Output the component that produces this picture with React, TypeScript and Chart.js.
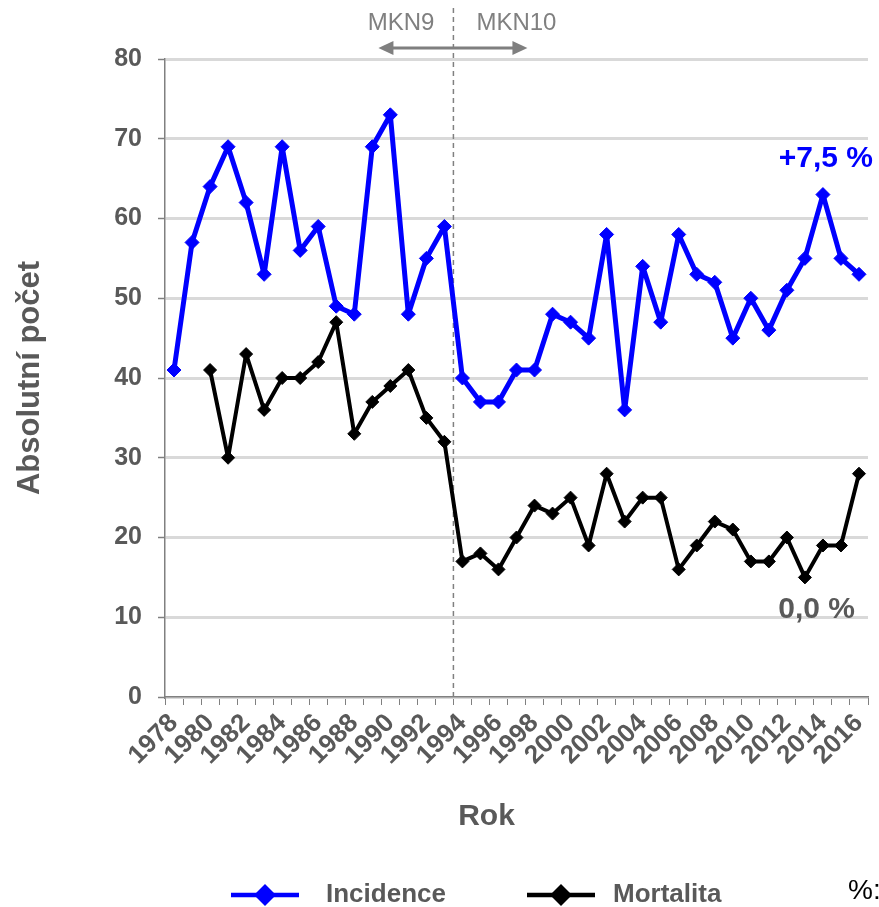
import React, { useEffect, useRef } from "react";
import { Chart, registerables } from "chart.js";

Chart.register(...registerables);

const years = [
  "1978", "1979", "1980", "1981", "1982", "1983", "1984", "1985", "1986", "1987",
  "1988", "1989", "1990", "1991", "1992", "1993", "1994", "1995", "1996", "1997",
  "1998", "1999", "2000", "2001", "2002", "2003", "2004", "2005", "2006", "2007",
  "2008", "2009", "2010", "2011", "2012", "2013", "2014", "2015", "2016",
];

const incidence = [
  41, 57, 64, 69, 62, 53, 69, 56, 59, 49,
  48, 69, 73, 48, 55, 59, 40, 37, 37, 41,
  41, 48, 47, 45, 58, 36, 54, 47, 58, 53,
  52, 45, 50, 46, 51, 55, 63, 55, 53,
];

const mortality: (number | null)[] = [
  null, null, 41, 30, 43, 36, 40, 40, 42, 47,
  33, 37, 39, 41, 35, 32, 17, 18, 16, 20,
  24, 23, 25, 19, 28, 22, 25, 25, 16, 19,
  22, 21, 17, 17, 20, 15, 19, 19, 28,
];

const seriesNames = ["Incidence", "Mortalita"];
const seriesColors = ["#0000ff", "#000000"];
const yMin = 0;
const yMax = 80;
const yStep = 10;
const codeLeft = "MKN9";
const codeRight = "MKN10";
const codeSwitchIndex = 16; // first year of MKN10 (1994)
const trendIncidence = "+7,5 %";
const trendMortality = "0,0 %";
const trendIncidenceAt = 67.5;
const trendMortalityAt = 10.9;
const xTitle = "Rok";
const yTitle = "Absolutní počet";

const FONT = "'Liberation Sans', Arial, Helvetica, sans-serif";
const GREY = "#595959";

const extrasPlugin = {
  id: "extras",
  beforeDatasetsDraw(chart: any) {
    const ctx = chart.ctx;
    const xs = chart.scales.x;
    const area = chart.chartArea;
    const divX = (xs.getPixelForValue(codeSwitchIndex - 1) + xs.getPixelForValue(codeSwitchIndex)) / 2;
    ctx.save();
    ctx.strokeStyle = "#808080";
    ctx.lineWidth = 1.5;
    ctx.setLineDash([5, 4]);
    ctx.beginPath();
    ctx.moveTo(divX, 8);
    ctx.lineTo(divX, area.bottom);
    ctx.stroke();
    ctx.restore();
  },
  afterDraw(chart: any) {
    const ctx = chart.ctx;
    const xs = chart.scales.x;
    const ys = chart.scales.y;
    const area = chart.chartArea;
    const divX = (xs.getPixelForValue(codeSwitchIndex - 1) + xs.getPixelForValue(codeSwitchIndex)) / 2;

    ctx.save();
    // MKN labels
    ctx.font = `24px ${FONT}`;
    ctx.fillStyle = "#808080";
    ctx.textBaseline = "middle";
    ctx.textAlign = "right";
    ctx.fillText(codeLeft, divX - 19, 23);
    ctx.textAlign = "left";
    ctx.fillText(codeRight, divX + 23, 23);

    // double arrow
    const ay = 48;
    const ax1 = divX - 75;
    const ax2 = divX + 74;
    ctx.strokeStyle = "#7f7f7f";
    ctx.fillStyle = "#7f7f7f";
    ctx.lineWidth = 3;
    ctx.beginPath();
    ctx.moveTo(ax1 + 10, ay);
    ctx.lineTo(ax2 - 10, ay);
    ctx.stroke();
    ctx.beginPath();
    ctx.moveTo(ax1, ay);
    ctx.lineTo(ax1 + 15, ay - 7);
    ctx.lineTo(ax1 + 15, ay + 7);
    ctx.closePath();
    ctx.fill();
    ctx.beginPath();
    ctx.moveTo(ax2, ay);
    ctx.lineTo(ax2 - 15, ay - 7);
    ctx.lineTo(ax2 - 15, ay + 7);
    ctx.closePath();
    ctx.fill();

    // x axis title
    ctx.font = `bold 30px ${FONT}`;
    ctx.fillStyle = GREY;
    ctx.textAlign = "center";
    ctx.textBaseline = "middle";
    ctx.fillText(xTitle, (area.left + area.right) / 2 - 30, 817);

    // trend annotations
    ctx.font = `bold 30px ${FONT}`;
    ctx.textAlign = "right";
    ctx.textBaseline = "middle";
    ctx.fillStyle = "#0000ff";
    ctx.fillText(trendIncidence, area.right + 5, ys.getPixelForValue(trendIncidenceAt));
    ctx.fillStyle = GREY;
    ctx.fillText(trendMortality, area.right - 13, ys.getPixelForValue(trendMortalityAt));

    // legend
    const ly = 895;
    const items = [
      { x: 231, tx: 326 },
      { x: 527, tx: 613 },
    ];
    items.forEach((it, i) => {
      const c = seriesColors[i];
      ctx.strokeStyle = c;
      ctx.fillStyle = c;
      ctx.lineWidth = 4.5;
      ctx.beginPath();
      ctx.moveTo(it.x, ly);
      ctx.lineTo(it.x + 68, ly);
      ctx.stroke();
      const cx = it.x + 34;
      const r = 11;
      ctx.beginPath();
      ctx.moveTo(cx - r, ly);
      ctx.lineTo(cx, ly - r);
      ctx.lineTo(cx + r, ly);
      ctx.lineTo(cx, ly + r);
      ctx.closePath();
      ctx.fill();
      ctx.font = `bold 26px ${FONT}`;
      ctx.fillStyle = GREY;
      ctx.textAlign = "left";
      ctx.textBaseline = "middle";
      ctx.fillText(seriesNames[i], it.tx, ly);
    });
    ctx.font = `28px ${FONT}`;
    ctx.fillStyle = "#000000";
    ctx.fillText("%:", 848, ly - 4);
    ctx.restore();
  },
};

export default function App() {
  const ref = useRef<HTMLCanvasElement | null>(null);

  useEffect(() => {
    document.body.style.margin = "0";
    const canvas = ref.current;
    if (!canvas) return;
    const chart = new Chart(canvas, {
      type: "line",
      data: {
        labels: years,
        datasets: [
          {
            label: seriesNames[0],
            data: incidence,
            borderColor: seriesColors[0],
            backgroundColor: seriesColors[0],
            borderWidth: 5,
            borderJoinStyle: "round",
            borderCapStyle: "round",
            pointStyle: "rectRot",
            pointRadius: 7,
            pointBorderWidth: 1,
            pointBackgroundColor: seriesColors[0],
            pointBorderColor: seriesColors[0],
            tension: 0,
          },
          {
            label: seriesNames[1],
            data: mortality,
            borderColor: seriesColors[1],
            backgroundColor: seriesColors[1],
            borderWidth: 4,
            borderJoinStyle: "round",
            borderCapStyle: "round",
            pointStyle: "rectRot",
            pointRadius: 6.5,
            pointBorderWidth: 1,
            pointBackgroundColor: seriesColors[1],
            pointBorderColor: seriesColors[1],
            tension: 0,
          },
        ],
      },
      options: {
        responsive: false,
        animation: false,
        layout: { padding: { top: 59, right: 11, bottom: 72.6, left: 0 } },
        plugins: {
          legend: { display: false },
          tooltip: { enabled: false },
        },
        scales: {
          x: {
            type: "category",
            offset: true,
            grid: {
              display: true,
              drawOnChartArea: false,
              drawTicks: true,
              offset: true,
              tickLength: 8,
              color: "#808080",
              lineWidth: 1,
            },
            border: { display: true, color: "#808080", width: 1.5 },
            ticks: {
              autoSkip: false,
              minRotation: 45,
              maxRotation: 45,
              padding: 3,
              color: GREY,
              font: { family: FONT, size: 26, weight: "bold" },
              callback: (_v: any, i: number) => (i % 2 === 0 ? years[i] : ""),
            },
            title: { display: false },
            afterFit: (s: any) => {
              s.height = 137.4;
              s.paddingLeft = 0;
              s.paddingRight = 0;
            },
          },
          y: {
            min: yMin,
            max: yMax,
            ticks: {
              stepSize: yStep,
              padding: 16,
              color: GREY,
              font: { family: FONT, size: 25, weight: "bold" },
            },
            grid: {
              color: "#d9d9d9",
              lineWidth: 3,
              tickLength: 7,
              tickColor: "#808080",
              tickWidth: 1.5,
            },
            border: { display: true, color: "#808080", width: 1.5 },
            title: {
              display: true,
              text: yTitle,
              color: GREY,
              font: { family: FONT, size: 31, weight: "bold" },
              padding: { top: 11.4, bottom: 0 },
            },
            afterFit: (s: any) => {
              s.width = 165;
              s.paddingTop = 0;
              s.paddingBottom = 0;
            },
          },
        },
      },
      plugins: [extrasPlugin],
    } as any);
    return () => chart.destroy();
  }, []);

  return (
    <div style={{ width: 879, height: 907 }}>
      <canvas ref={ref} width={879} height={907} style={{ width: 879, height: 907, display: "block" }} />
    </div>
  );
}
